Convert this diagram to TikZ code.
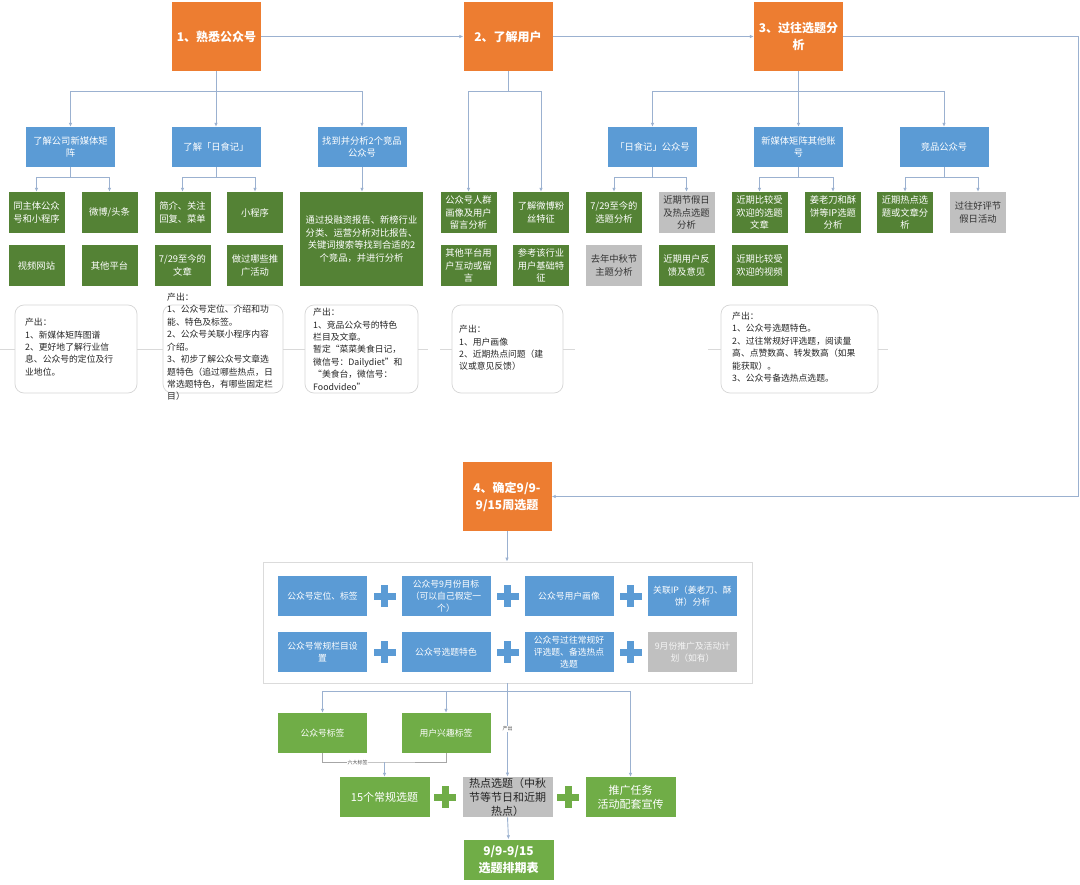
\documentclass[tikz,border=0pt]{standalone}
\usepackage{fontspec}
\setmainfont{Noto Sans CJK SC}
\usetikzlibrary{arrows.meta}
\XeTeXlinebreaklocale "zh"
\definecolor{org}{HTML}{ED7D31}
\definecolor{blu}{HTML}{5B9BD5}
\definecolor{grn}{HTML}{548235}
\definecolor{lgrn}{HTML}{70AD47}
\definecolor{gry}{HTML}{C0C0C0}
\definecolor{lnk}{HTML}{9BB1D0}
\newcommand\drawplus[3]{%
  \fill[#3] ({#1-11},{#2-3.5}) rectangle ({#1+11},{#2+3.5});
  \fill[#3] ({#1-3.5},{#2-11}) rectangle ({#1+3.5},{#2+11});}
\begin{document}
\begin{tikzpicture}[x=1pt,y=-1pt,
  box/.style={rectangle, inner sep=1pt, align=center, text=white, font=\fontsize{9.3}{12.5}\selectfont},
  ob/.style={box, fill=org, minimum width=89pt, minimum height=69pt, font=\bfseries\fontsize{12}{17}\selectfont},
  bb/.style={box, fill=blu, minimum width=89pt, minimum height=40pt},
  gb/.style={box, fill=grn, minimum width=56pt, minimum height=41pt},
  gyb/.style={box, fill=gry, text=black!80, minimum width=56pt, minimum height=41pt},
  pb/.style={box, fill=blu, minimum width=89pt, minimum height=40pt, font=\fontsize{8.8}{12}\selectfont},
  lb/.style={box, fill=lgrn, minimum width=89pt, minimum height=40pt, font=\fontsize{8.8}{12}\selectfont},
  hb/.style={box, fill=lgrn, minimum width=90pt, minimum height=40pt, font=\fontsize{11}{14}\selectfont},
  ln/.style={draw=lnk, line width=0.9pt},
  conn/.style={ln, -{Latex[length=4pt,width=3.5pt]}},
  callout/.style={draw=black!16, line width=0.7pt, rounded corners=9pt, inner sep=0pt},
  ctext/.style={inner sep=0pt, align=left, anchor=north west, font=\fontsize{8.8}{12.4}\selectfont, text=black!85},
  stub/.style={draw=black!15, line width=0.8pt},
  tiny/.style={inner sep=0.5pt, fill=white, font=\fontsize{5}{6}\selectfont, text=black!70}
]
\useasboundingbox (0,0) rectangle (1080,885);
\fill[white] (0,0) rectangle (1080,885);

% ---------- orange steps ----------
\node[ob] (o1) at (216.5,36.5) {1、熟悉公众号};
\node[ob] (o2) at (508,36.5) {2、了解用户};
\node[ob] (o3) at (798.5,36.5) {3、过往选题分\\析};
\node[ob] (o4) at (507,496.5) {4、确定9/9-\\9/15周选题};

\draw[conn] (o1.east) -- (o2.west);
\draw[conn] (o2.east) -- (o3.west);
\coordinate (rc) at (1078,36.5);
\draw[conn] (o3.east) -- (rc) |- (o4.east);

% ---------- blue level ----------
\node[bb] (b11) at (70.5,147) {了解公司新媒体矩\\阵};
\node[bb] (b12) at (216,147) {了解「日食记」};
\node[bb] (b13) at (362,147) {找到并分析2个竞品\\公众号};
\node[bb] (b31) at (652.5,147) {「日食记」公众号};
\node[bb] (b32) at (798.5,147) {新媒体矩阵其他账\\号};
\node[bb] (b33) at (944,147) {竞品公众号};

% ---------- green level ----------
\node[gb] (g1) at (36.5,212.5) {同主体公众\\号和小程序};
\node[gb] (g2) at (109.5,212.5) {微博/头条};
\node[gb] (g3) at (36.5,265.5) {视频网站};
\node[gb] (g4) at (109.5,265.5) {其他平台};
\node[gb] (g5) at (182.5,212.5) {简介、关注\\回复、菜单};
\node[gb] (g6) at (255,212.5) {小程序};
\node[gb] (g7) at (182.5,265.5) {7/29至今的\\文章};
\node[gb] (g8) at (255,265.5) {做过哪些推\\广活动};
\node[gb, minimum width=123pt, minimum height=94pt] (g9) at (361.5,239) {通过投融资报告、新榜行业\\分类、运营分析对比报告、\\关键词搜索等找到合适的2\\个竞品，并进行分析};
\node[gb] (g10) at (468.5,212.5) {公众号人群\\画像及用户\\留言分析};
\node[gb] (g11) at (541,212.5) {了解微博粉\\丝特征};
\node[gb] (g12) at (468.5,265.5) {其他平台用\\户互动或留\\言};
\node[gb] (g13) at (541,265.5) {参考该行业\\用户基础特\\征};
\node[gb] (g14) at (614,212.5) {7/29至今的\\选题分析};
\node[gyb] (g15) at (686.5,212.5) {近期节假日\\及热点选题\\分析};
\node[gyb] (g16) at (614,265.5) {去年中秋节\\主题分析};
\node[gb] (g17) at (686.5,265.5) {近期用户反\\馈及意见};
\node[gb] (g18) at (759.5,212.5) {近期比较受\\欢迎的选题\\文章};
\node[gb] (g19) at (833,212.5) {姜老刀和酥\\饼等IP选题\\分析};
\node[gb] (g20) at (759.5,265.5) {近期比较受\\欢迎的视频};
\node[gb] (g21) at (905,212.5) {近期热点选\\题或文章分\\析};
\node[gyb] (g22) at (978,212.5) {过往好评节\\假日活动};

% ---------- tree connectors ----------
\coordinate (j1) at (216.5,91);
\draw[ln] (o1.south) -- (j1);
\foreach \t in {b11,b12,b13} \draw[conn] (j1) -| (\t.north);
\coordinate (j2) at (508,91);
\draw[ln] (o2.south) -- (j2);
\foreach \t in {g10,g11} \draw[conn] (j2) -| (\t.north);
\coordinate (j3) at (798.5,91);
\draw[ln] (o3.south) -- (j3);
\foreach \t in {b31,b32,b33} \draw[conn] (j3) -| (\t.north);

\coordinate (k11) at (70.5,177);
\draw[ln] (b11.south) -- (k11);
\foreach \t in {g1,g2} \draw[conn] (k11) -| (\t.north);
\coordinate (k12) at (216,177);
\draw[ln] (b12.south) -- (k12);
\foreach \t in {g5,g6} \draw[conn] (k12) -| (\t.north);
\draw[conn] (b13.south) -- (b13.south |- g9.north);
\coordinate (k31) at (652.5,177);
\draw[ln] (b31.south) -- (k31);
\foreach \t in {g14,g15} \draw[conn] (k31) -| (\t.north);
\coordinate (k32) at (798.5,177);
\draw[ln] (b32.south) -- (k32);
\foreach \t in {g18,g19} \draw[conn] (k32) -| (\t.north);
\coordinate (k33) at (944,177);
\draw[ln] (b33.south) -- (k33);
\foreach \t in {g21,g22} \draw[conn] (k33) -| (\t.north);

% ---------- outputs ----------
\node[callout, minimum width=122pt, minimum height=88pt] (c1) at (76,349) {};
\node[callout, minimum width=120pt, minimum height=88pt] (c2) at (223,349) {};
\node[callout, minimum width=113pt, minimum height=88pt] (c3) at (361.5,349) {};
\node[callout, minimum width=111pt, minimum height=88pt] (c4) at (507.5,349) {};
\node[callout, minimum width=157pt, minimum height=88pt] (c5) at (799.5,349) {};

\node[ctext] (t1) at (25,318) {产出：\\1、新媒体矩阵图谱\\2、更好地了解行业信\\息、公众号的定位及行\\业地位。};
\node[ctext] (t2) at (167,293) {产出：\\1、公众号定位、介绍和功\\能、特色及标签。\\2、公众号关联小程序内容\\介绍。\\3、初步了解公众号文章选\\题特色（追过哪些热点，日\\常选题特色，有哪些固定栏\\目）};
\node[ctext] (t3) at (313,308) {产出：\\1、竞品公众号的特色\\栏目及文章。\\暂定“菜菜美食日记，\\微信号：Dailydiet”和\\“美食台，微信号：\\Foodvideo”};
\node[ctext] (t4) at (459,325) {产出：\\1、用户画像\\2、近期热点问题（建\\议或意见反馈）};
\node[ctext] (t5) at (732,312) {产出：\\1、公众号选题特色。\\2、过往常规好评选题，阅读量\\高、点赞数高、转发数高（如果\\能获取）。\\3、公众号备选热点选题。};

\coordinate (s0) at (0,349);
\coordinate (s3) at (428,349);
\coordinate (s4) at (440,349);
\coordinate (s5) at (575,349);
\coordinate (s6) at (708,349);
\coordinate (s7) at (888,349);
\draw[stub] (s0) -- (c1.west);
\draw[stub] (c1.east) -- (c2.west);
\draw[stub] (c2.east) -- (c3.west);
\draw[stub] (c3.east) -- (s3);
\draw[stub] (s4) -- (c4.west);
\draw[stub] (c4.east) -- (s5);
\draw[stub] (s6) -- (c5.west);
\draw[stub] (c5.east) -- (s7);

% ---------- step 4 block ----------
\node[draw=black!14, line width=0.8pt, minimum width=489pt, minimum height=121pt, inner sep=0pt] (cont) at (507.5,622.5) {};
\draw[conn] (o4.south) -- (o4.south |- cont.north);

\node[pb] (p1) at (322.5,596) {公众号定位、标签};
\node[pb] (p2) at (446,596) {公众号9月份目标\\（可以自己假定一\\个）};
\node[pb] (p3) at (569,596) {公众号用户画像};
\node[pb] (p4) at (692.5,596) {关联IP（姜老刀、酥\\饼）分析};
\node[pb] (p5) at (322.5,652) {公众号常规栏目设\\置};
\node[pb] (p6) at (446,652) {公众号选题特色};
\node[pb] (p7) at (569,652) {公众号过往常规好\\评选题、备选热点\\选题};
\node[pb, fill=gry, text=white!92!gray] (p8) at (692.5,652) {9月份推广及活动计\\划（如有）};
\drawplus{384.5}{596}{blu}
\drawplus{507.5}{596}{blu}
\drawplus{630.5}{596}{blu}
\drawplus{384.5}{652}{blu}
\drawplus{507.5}{652}{blu}
\drawplus{630.5}{652}{blu}

\node[lb] (l1) at (322.5,733) {公众号标签};
\node[lb] (l2) at (446,733) {用户兴趣标签};
\node[hb] (h1) at (384.5,797) {15个常规选题};
\node[hb, fill=gry, text=black!85] (h2) at (507.5,797) {热点选题（中秋\\节等节日和近期\\热点）};
\node[hb] (h3) at (630.5,797) {推广任务\\活动配套宣传};
\node[hb, font=\bfseries\fontsize{12}{17}\selectfont] (fin) at (508.5,859.5) {9/9-9/15\\选题排期表};
\drawplus{445}{797}{lgrn}
\drawplus{568}{797}{lgrn}

\coordinate (jb) at (507.5,691);
\draw[conn] (cont.south) -- (h2.north);
\draw[conn] (jb) -| (l1.north);
\draw[conn] (jb) -| (l2.north);
\draw[conn] (jb) -| (h3.north);
\node[tiny] (lab1) at (507.5,729) {产出};

\coordinate (kb) at (384.5,762);
\draw[draw=black!35, line width=0.8pt] (l1.south) |- (kb) -| (l2.south);
\draw[conn] (kb) -- (h1.north);
\node[tiny] (lab2) at (357.5,763) {六大标签};

\draw[conn] (h2.south) -- (fin.north);
\end{tikzpicture}
\end{document}
